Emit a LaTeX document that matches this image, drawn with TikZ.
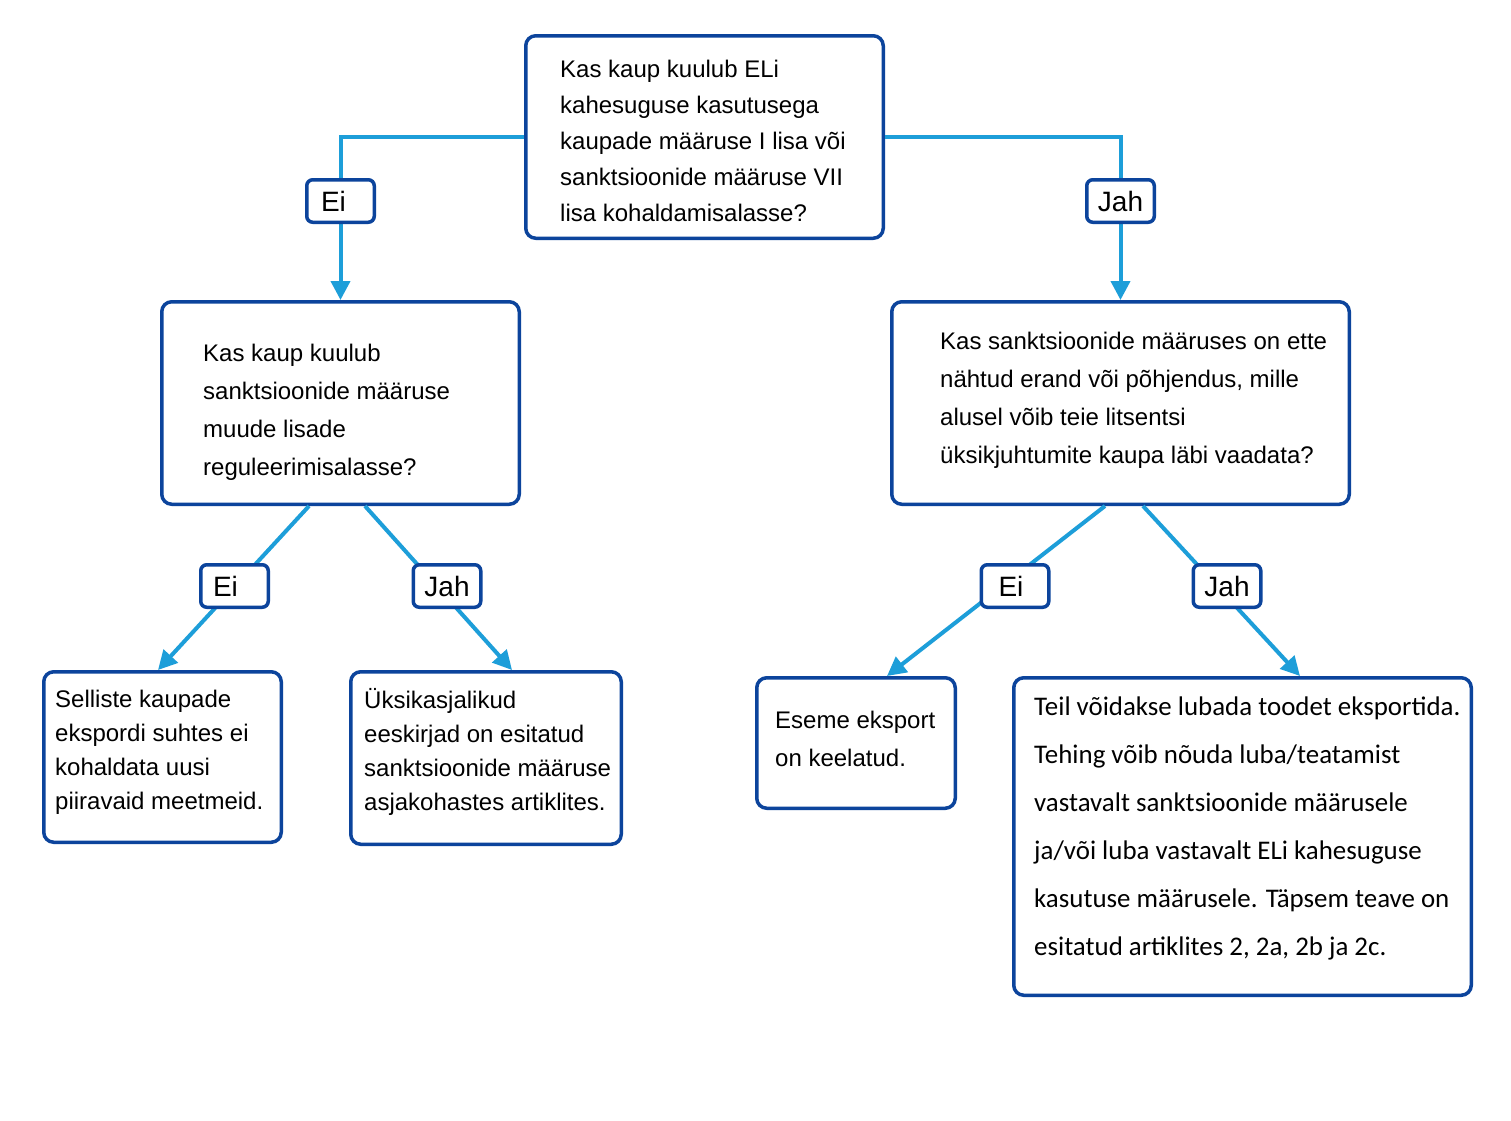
\documentclass[tikz,border=0pt]{standalone}
\usepackage{fontspec}
\setmainfont{Liberation Sans}
\newfontfamily\bigfont{Carlito}
\usetikzlibrary{arrows.meta}
\definecolor{boxblue}{RGB}{12,68,156}
\definecolor{linkblue}{RGB}{29,158,217}
\begin{document}
\begin{tikzpicture}[x=1pt,y=-1pt,
  box/.style={draw=boxblue, line width=3.5pt, rounded corners=10pt, fill=white, inner sep=0pt},
  lbl/.style={draw=boxblue, line width=3.5pt, rounded corners=6pt, fill=white, minimum width=67.5pt, minimum height=42.5pt, inner sep=0pt, font=\fontsize{28}{30}\selectfont},
  txt/.style={anchor=west, align=left, inner sep=0pt, font=\fontsize{24}{#1}\selectfont},
  link/.style={draw=linkblue, line width=4pt},
  arr/.style={link, -{Triangle[length=19pt,width=19pt]}}]
\useasboundingbox[fill=white] (0,0) rectangle (1511,1120);

% boxes
\node[box, minimum width=357.5pt, minimum height=202.5pt] (top) at (704.5,137) {};
\node[box, minimum width=357.5pt, minimum height=202.5pt] (lmid) at (340.5,403) {};
\node[box, minimum width=457.5pt, minimum height=202.5pt] (rmid) at (1120.5,403) {};
\node[box, minimum width=237.5pt, minimum height=170.5pt] (bl) at (162.5,757) {};
\node[box, minimum width=270.5pt, minimum height=172.5pt] (bm) at (486,758) {};
\node[box, minimum width=198.5pt, minimum height=130.5pt] (es) at (856,743) {};
\node[box, minimum width=457.5pt, minimum height=317.5pt] (big) at (1242.5,836.5) {};

% connectors
\draw[arr] (top.west) -| (lmid.north);
\draw[arr] (top.east) -| (rmid.north);
\draw[arr] ([xshift=-31.5pt]lmid.south) -- ([xshift=-4.5pt]bl.north);
\draw[arr] ([xshift=24.5pt]lmid.south) -- ([xshift=26pt]bm.north);
\draw[arr] ([xshift=-15.5pt]rmid.south) -- ([xshift=31pt]es.north);
\draw[arr] ([xshift=22.5pt]rmid.south) -- ([xshift=57.5pt]big.north);

% labels
\node[lbl] (ei1) at (340.5,201) {Ei\hspace*{14pt}};
\node[lbl] (jah1) at (1120.5,201) {Jah};
\node[lbl] (ei2) at (234.5,586) {Ei\hspace*{18pt}};
\node[lbl] (jah2) at (447,586) {Jah};
\node[lbl] (ei3) at (1015,586) {Ei\hspace*{8pt}};
\node[lbl] (jah3) at (1227,586) {Jah};

% texts
\node[txt=36] (ttop) at (560,141) {Kas kaup kuulub ELi\\kahesuguse kasutusega\\kaupade määruse I lisa või\\sanktsioonide määruse VII\\lisa kohaldamisalasse?};
\node[txt=38] (tlmid) at (203,412) {Kas kaup kuulub\\sanktsioonide määruse\\muude lisade\\reguleerimisalasse?};
\node[txt=38] (trmid) at (940,400) {Kas sanktsioonide määruses on ette\\nähtud erand või põhjendus, mille\\alusel võib teie litsentsi\\üksikjuhtumite kaupa läbi vaadata?};
\node[txt=34] (tbl) at (55,752) {Selliste kaupade\\ekspordi suhtes ei\\kohaldata uusi\\piiravaid meetmeid.};
\node[txt=34] (tbm) at (364,752) {Üksikasjalikud\\eeskirjad on esitatud\\sanktsioonide määruse\\asjakohastes artiklites.};
\node[txt=38] (tes) at (775,739) {Eseme eksport\\on keelatud.};
\node[anchor=west, align=left, inner sep=0pt, font=\bigfont\fontsize{26.9}{48}\selectfont] (tbig) at (1034,828) {Teil võidakse lubada toodet eksportida.\\Tehing võib nõuda luba/teatamist\\vastavalt sanktsioonide määrusele\\ja/või luba vastavalt ELi kahesuguse\\kasutuse määrusele. Täpsem teave on\\esitatud artiklites 2, 2a, 2b ja 2c.};
\end{tikzpicture}
\end{document}
